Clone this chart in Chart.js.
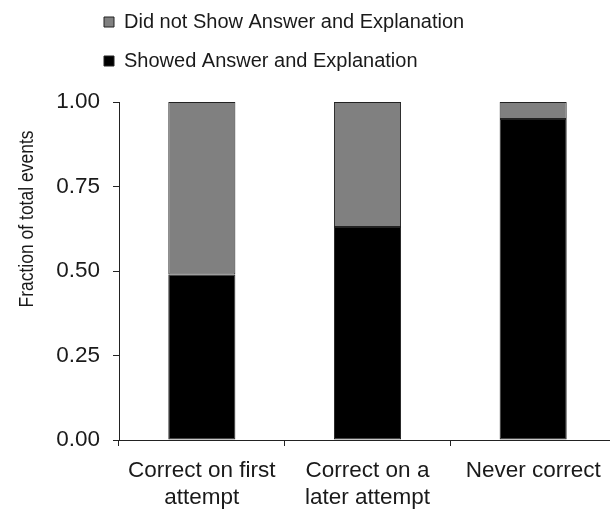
<!DOCTYPE html>
<html>
<head>
<meta charset="utf-8">
<script src="https://cdn.jsdelivr.net/npm/chart.js@4/dist/chart.umd.min.js"></script>
<style>
  html, body { margin: 0; padding: 0; overflow: hidden; background: #fff; }
  #wrap { width: 620px; height: 510px; }
</style>
</head>
<body>
<div id="wrap"><canvas id="chart"></canvas></div>
<script>
const categories = [["Correct on first", "attempt"], ["Correct on a", "later attempt"], ["Never correct"]];
const showedValues = [0.49, 0.63, 0.95];
const notShowedValues = [0.51, 0.37, 0.05];
const yTickValues = [0, 0.25, 0.5, 0.75, 1];
const yTitleText = "Fraction of total events";

const FONT = "'Liberation Sans', Arial, sans-serif";
const TEXT = "#1a1a1a";

// move the stacked legend over the plot like in the original figure
const legendShift = {
    id: "legendShift",
    afterLayout(chart) {
        chart.legend.left = 85;
        chart.legend.top = -7;
    }
};

// y title sits above the middle of the axis in the original (and is a bit narrow), so draw it here
const yTitle = {
    id: "yTitle",
    afterDraw(chart) {
        const ctx = chart.ctx;
        ctx.save();
        ctx.translate(33, chart.chartArea.top + 117);
        ctx.rotate(-Math.PI / 2);
        ctx.scale(0.875, 1);
        ctx.font = "20px " + FONT;
        ctx.fillStyle = TEXT;
        ctx.textAlign = "center";
        ctx.textBaseline = "alphabetic";
        ctx.fillText(yTitleText, 0, 0);
        ctx.restore();
    }
};

new Chart(document.getElementById("chart"), {
    type: "bar",
    data: {
        labels: categories,
        datasets: [
            {
                label: "Showed Answer and Explanation",
                data: showedValues,
                backgroundColor: "#000000",
                borderColor: "#222222",
                borderWidth: 1,
                borderSkipped: false
            },
            {
                label: "Did not Show Answer and Explanation",
                data: notShowedValues,
                backgroundColor: "#808080",
                borderColor: "#222222",
                borderWidth: 1,
                borderSkipped: false
            }
        ]
    },
    options: {
        responsive: true,
        maintainAspectRatio: false,
        animation: false,
        layout: { padding: { top: 14, right: 4, bottom: 0, left: 0 } },
        datasets: {
            bar: { categoryPercentage: 1, barPercentage: 0.405 }
        },
        plugins: {
            tooltip: { enabled: false },
            legend: {
                position: "top",
                align: "start",
                reverse: true,
                maxHeight: 88,
                labels: {
                    boxWidth: 10,
                    boxHeight: 10,
                    padding: 19,
                    color: TEXT,
                    font: { family: FONT, size: 20 }
                }
            }
        },
        scales: {
            x: {
                stacked: true,
                afterFit(scale) { scale.height = 70; },
                grid: {
                    offset: true,
                    drawOnChartArea: false,
                    drawTicks: true,
                    tickLength: 6,
                    color: "#222222"
                },
                border: { display: true, color: "#222222", width: 1 },
                ticks: {
                    color: TEXT,
                    padding: 11,
                    maxRotation: 0,
                    autoSkip: false,
                    font: { family: FONT, size: 22.5 }
                }
            },
            y: {
                stacked: true,
                min: 0,
                max: 1,
                afterFit(scale) { scale.width = 119; },
                afterBuildTicks(scale) {
                    scale.ticks = yTickValues.map(v => ({ value: v }));
                },
                grid: {
                    drawOnChartArea: false,
                    drawTicks: true,
                    tickLength: 6,
                    color: "#222222"
                },
                border: { display: true, color: "#222222", width: 1 },
                ticks: {
                    color: TEXT,
                    padding: 13,
                    font: { family: FONT, size: 22.5 },
                    callback: v => Number(v).toFixed(2)
                },
                title: { display: false }
            }
        }
    },
    plugins: [legendShift, yTitle]
});
</script>
</body>
</html>
